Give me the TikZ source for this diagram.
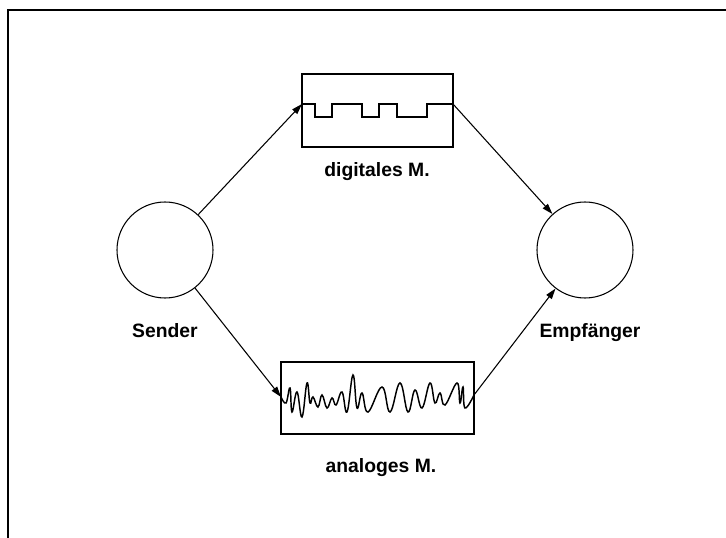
\documentclass[tikz,border=0pt]{standalone}
\usepackage{fontspec}
\setmainfont{Liberation Sans}
\usepackage{tikz}
\usetikzlibrary{arrows.meta, positioning}

\begin{document}
\begin{tikzpicture}[
    x=0.75pt, y=-0.75pt,
    station/.style={circle, draw, line width=0.8pt, minimum size=72pt, inner sep=0pt},
    medium/.style={rectangle, draw, line width=0.8pt, inner sep=0pt},
    arrow/.style={-{Triangle[length=8pt,width=5pt]}, line width=0.8pt},
    lbl/.style={font=\fontsize{14.5}{17}\selectfont\bfseries, anchor=base, inner sep=0pt}
]
    \useasboundingbox (0,0) rectangle (726,538);
    % Frame
    \draw[line width=1.1pt] (726,10) -- (8,10) -- (8,538);

    % Sender and Empfaenger
    \node[station] (sender) at (165,250) {};
    \node[station] (empf) at (585,250) {};

    % Media
    \node[medium, minimum width=113.25pt, minimum height=54.75pt] (dbox) at (377.5,110.5) {};
    \node[medium, minimum width=144.75pt, minimum height=54pt] (abox) at (377.5,398) {};

    % Signals
    \coordinate (dIn) at (302,104);
    \coordinate (dOut) at (453,104);
    \coordinate (aIn) at (281,397);
    \coordinate (aOut) at (474,395);
    \draw[line width=0.8pt] (dIn) -- (315,104) -- (315,117) -- (332,117) -- (332,104) -- (362,104)
        -- (362,117) -- (379,117) -- (379,104) -- (397,104) -- (397,117) -- (427,117) -- (427,104) -- (dOut);
    \draw[line width=1.1pt] plot[smooth, tension=0.7] coordinates {
        (281,397) (286,403) (290,388) (292,412) (297,392) (302,417) (307,383) (310,403)
        (313,397) (318,407) (322,395) (327,408) (332,398) (336,405) (342,392) (347,412)
        (353,375) (357,408) (362,393) (368,412) (382,387) (390,412) (400,383) (408,412)
        (415,390) (422,408) (430,383) (435,403) (440,393) (445,405) (457,383) (460,403)
        (463,387) (465,408) (474,395)};

    % Arrows
    \draw[arrow] (sender) -- (dIn);
    \draw[arrow] (sender) -- (aIn);
    \draw[arrow] (dOut) -- (empf);
    \draw[arrow] (aOut) -- (empf);

    % Labels
    \node[lbl] (lsender) at (165,338) {Sender};
    \node[lbl] (lempf) at (590,338) {Empfänger};
    \node[lbl] (ldig) at (377,177) {digitales M.};
    \node[lbl] (lana) at (381,473) {analoges M.};
\end{tikzpicture}
\end{document}
